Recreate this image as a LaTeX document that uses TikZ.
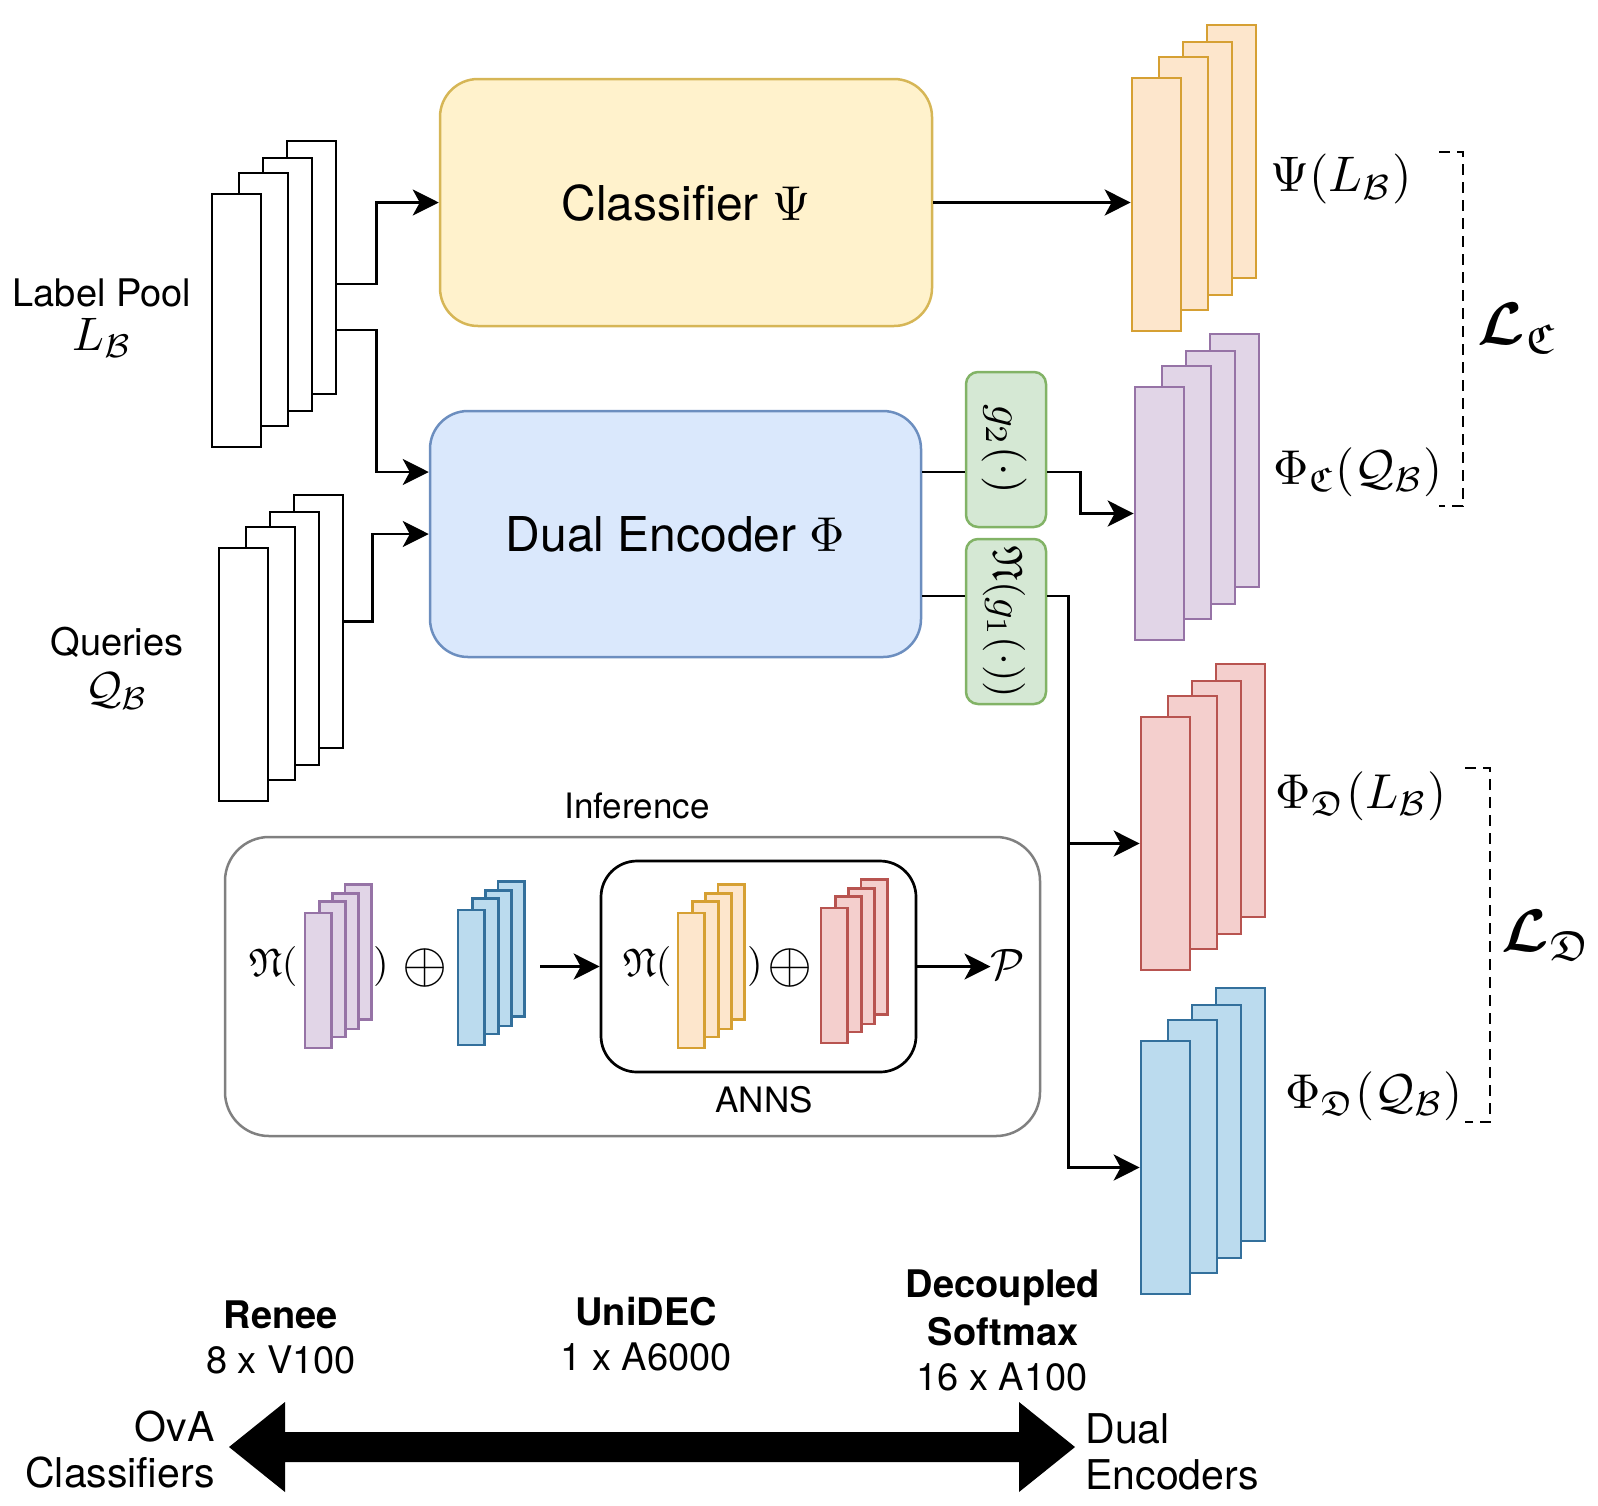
\RequirePackage{fix-cm}
\documentclass[tikz,border=0pt]{standalone}
\usepackage{graphicx}
\usepackage{amsmath,amssymb}
\usepackage[no-math]{fontspec}
\setmainfont{TeX Gyre Heros}
\usetikzlibrary{arrows.meta,calc}
\definecolor{clsfill}{HTML}{FFF2CC}\definecolor{clsdraw}{HTML}{D6B656}
\definecolor{defill}{HTML}{DAE8FC}\definecolor{dedraw}{HTML}{6C8EBF}
\definecolor{gfill}{HTML}{D5E8D4}\definecolor{gdraw}{HTML}{82B366}
\definecolor{ofill}{HTML}{FDE6CC}\definecolor{odraw}{HTML}{D6A033}
\definecolor{pfill}{HTML}{E1D5E7}\definecolor{pdraw}{HTML}{9673A6}
\definecolor{rfill}{HTML}{F4CFCD}\definecolor{rdraw}{HTML}{B85450}
\definecolor{bfill}{HTML}{BBDBEE}\definecolor{bdraw}{HTML}{33709C}
\definecolor{infdraw}{HTML}{808080}
\newcommand{\mymath}[2]{\scalebox{#1}{\fontsize{10}{12}\selectfont$#2$}}
\tikzset{
  conn/.style={line width=1.35pt,-{Stealth[length=13pt,width=13pt,inset=3.5pt]}},
  plainline/.style={line width=1.35pt},
  bigbox/.style={draw, rounded corners=19pt, line width=1.25pt, inner sep=0pt},
  stk/.style n args={3}{draw=#3, fill=#2, minimum width=#1*24.5pt, minimum height=#1*126.5pt, inner sep=0pt, line width=1.35pt},
  txt/.style={inner sep=0pt, font=\fontsize{19}{22}\selectfont},
  lbl/.style={inner sep=0pt},
  gbox/.style={draw=gdraw, fill=gfill, rounded corners=6pt, line width=1.25pt, minimum width=40pt, inner sep=0pt},
}
\newcommand{\featstack}[6]{%
  \foreach \i/\dx/\dy in {4/75/-53,3/51/-36,2/27/-21,1/0/0}{%
    \node[stk={#4}{#5}{#6}] (#1\i) at ({#2+(\dx+24.5)*#4},{#3+(\dy+126.5)*#4}) {};}}
\begin{document}
\begin{tikzpicture}[x=0.5pt,y=-0.5pt]
\useasboundingbox (0,0) rectangle (1598,1505);
% main boxes
\node[bigbox, draw=clsdraw, fill=clsfill, minimum width=246pt, minimum height=123.5pt, font=\fontsize{24}{28}\selectfont] (cls) at (686,202.5) {Classifier \mymath{2.45}{\Psi}};
\node[bigbox, draw=dedraw, fill=defill, minimum width=245.5pt, minimum height=123pt, font=\fontsize{24}{28}\selectfont] (de) at (675.5,534) {Dual Encoder \mymath{2.45}{\Phi}};
\node[gbox, minimum height=77.5pt] (g2) at (1006,449.5) {};
\node[gbox, minimum height=82.5pt] (nb) at (1006,621.5) {};
\node[lbl, rotate=-90] (g2t) at (1004,449) {\mymath{2.25}{g_2(\cdot)}};
\node[lbl, rotate=-90] (nbt) at (1004,622) {\mymath{2.12}{\mathfrak{N}(g_1(\cdot))}};
% stacks
\featstack{lp}{212}{194}{1}{white}{black}
\featstack{qs}{219}{548}{1}{white}{black}
\featstack{or}{1132}{78}{1}{ofill}{odraw}
\featstack{pu}{1135}{387}{1}{pfill}{pdraw}
\featstack{rd}{1141}{717}{1}{rfill}{rdraw}
\featstack{bl}{1141}{1041}{1}{bfill}{bdraw}
% left labels
\node[txt, anchor=base] (lpt) at (102,306) {Label Pool};
\node[lbl, anchor=base] (lpm) at (102,350) {\mymath{2.35}{L_{\mathcal{B}}}};
\node[txt, anchor=base] (qst) at (117,655) {Queries};
\node[lbl, anchor=base] (qsm) at (117,703) {\mymath{2.25}{\mathcal{Q}_{\mathcal{B}}}};
% connectors
\draw[conn] ($(lp4.east)+(0,16.5)$) -- ++(39,0) |- (cls.west);
\draw[conn] ($(lp4.east)+(0,62.5)$) -- ++(39,0) |- ($(de.west)+(0,-62)$);
\draw[conn] (qs4.east) -- ++(28,0) |- (de.west);
\draw[conn] (cls.east) -- (cls.east -| or1.west);
\draw[plainline] ($(de.east)+(0,-62)$) -- ($(g2.west)+(0,22.5)$);
\draw[conn] ($(g2.east)+(0,22.5)$) -- ++(33,0) |- (pu1.west);
\draw[plainline] ($(de.east)+(0,62)$) -- ($(nb.west)+(0,-25.5)$);
\draw[conn] ($(nb.east)+(0,-25.5)$) -- ++(21,0) |- (rd1.west);
\draw[conn] ($(nb.east)+(0,-25.5)$) -- ++(21,0) |- (bl1.west);
% right labels
\node[lbl] (psil) at (1341,179) {\mymath{2.5}{\Psi(L_{\mathcal{B}})}};
\node[lbl] (phicq) at (1358,472) {\mymath{2.45}{\Phi_{\mathfrak{C}}(\mathcal{Q}_{\mathcal{B}})}};
\node[lbl] (phidl) at (1361,796) {\mymath{2.45}{\Phi_{\mathfrak{D}}(L_{\mathcal{B}})}};
\node[lbl] (phidq) at (1374,1096) {\mymath{2.45}{\Phi_{\mathfrak{D}}(\mathcal{Q}_{\mathcal{B}})}};
\draw[line width=1.2pt, dash pattern=on 5.5pt off 3.5pt] (1439,152) -- (1463,152) -- (1463,506) -- (1439,506);
\draw[line width=1.2pt, dash pattern=on 5.5pt off 3.5pt] (1465,768) -- (1490,768) -- (1490,1122) -- (1465,1122);
\node[lbl] (lc) at (1518,328) {\mymath{3.0}{\boldsymbol{\mathcal{L}}_{\mathfrak{C}}}};
\node[lbl] (ld) at (1547,935) {\mymath{3.0}{\boldsymbol{\mathcal{L}}_{\mathfrak{D}}}};
% inference
\node[inner sep=0pt, font=\fontsize{17.5}{21}\selectfont] (inft) at (637,806) {Inference};
\node[draw=infdraw, rounded corners=22pt, line width=1.25pt, minimum width=407.5pt, minimum height=149.5pt, inner sep=0pt] (inf) at (632.5,986.5) {};
\node[draw=black, rounded corners=18pt, line width=1.35pt, minimum width=157.5pt, minimum height=105.5pt, inner sep=0pt] (anns) at (758.5,966.5) {};
\node[inner sep=0pt, font=\fontsize{17.5}{21}\selectfont] (annst) at (764,1100) {ANNS};
\featstack{ip}{305}{913}{0.534}{pfill}{pdraw}
\featstack{ib}{458}{910}{0.534}{bfill}{bdraw}
\featstack{io}{678}{913}{0.534}{ofill}{odraw}
\featstack{ir}{821}{908}{0.534}{rfill}{rdraw}
\node[lbl] (n1) at (273,966) {\mymath{2.0}{\mathfrak{N}(}};
\node[lbl] (c1) at (381,966) {\mymath{2.0}{)}};
\node[lbl] (o1) at (425,968) {\mymath{2.9}{\oplus}};
\node[lbl] (n2) at (647,966) {\mymath{2.0}{\mathfrak{N}(}};
\node[lbl] (c2) at (755,966) {\mymath{2.0}{)}};
\node[lbl] (o2) at (790,968) {\mymath{2.9}{\oplus}};
\node[lbl] (pp) at (1008,964) {\mymath{2.2}{\mathcal{P}}};
\coordinate (iarr) at (540,966.5);
\draw[conn] (iarr) -- (anns.west);
\draw[conn] (anns.east) -- (anns.east -| pp.west);
% bottom scale
\fill (229,1447) -- (285,1402) -- (285,1432) -- (1019,1432) -- (1019,1402) -- (1075,1447) -- (1019,1492) -- (1019,1462) -- (285,1462) -- (285,1492) -- cycle;
\node[txt, anchor=base, font=\fontsize{19}{22}\selectfont\bfseries] (ren) at (281,1328) {Renee};
\node[txt, anchor=base] (renh) at (281,1373) {8 x V100};
\node[txt, anchor=base, font=\fontsize{19}{22}\selectfont\bfseries] (uni) at (646,1325) {UniDEC};
\node[txt, anchor=base] (unih) at (646,1370) {1 x A6000};
\node[txt, anchor=base, font=\fontsize{19}{22}\selectfont\bfseries] (dec1) at (1003,1297) {Decoupled};
\node[txt, anchor=base, font=\fontsize{19}{22}\selectfont\bfseries] (dec2) at (1003,1345) {Softmax};
\node[txt, anchor=base] (dech) at (1002,1390) {16 x A100};
\node[txt, anchor=base east, font=\fontsize{20.5}{24}\selectfont] (ova1) at (215,1441) {OvA};
\node[txt, anchor=base east, font=\fontsize{20.5}{24}\selectfont] (ova2) at (215,1487) {Classifiers};
\node[txt, anchor=base west, font=\fontsize{20.5}{24}\selectfont] (du1) at (1085,1443) {Dual};
\node[txt, anchor=base west, font=\fontsize{20.5}{24}\selectfont] (du2) at (1085,1489) {Encoders};
\end{tikzpicture}
\end{document}
